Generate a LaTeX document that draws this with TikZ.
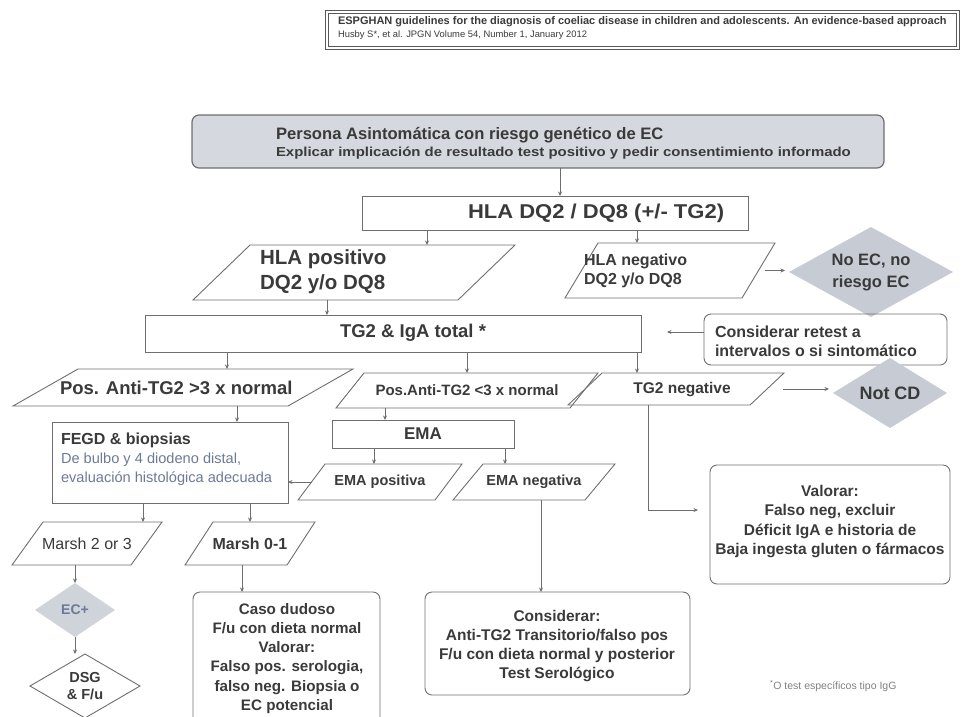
\documentclass[tikz,border=0pt]{standalone}
\usepackage{fontspec}
\setmainfont{Liberation Sans}
\usetikzlibrary{shapes.geometric,arrows.meta}
\definecolor{cLine}{HTML}{6E6E6E}
\definecolor{cText}{HTML}{3A3A3A}
\definecolor{cBlue}{HTML}{6C7A96}
\definecolor{cFill}{HTML}{D5D8DF}
\definecolor{cDia}{HTML}{C6CBD4}
\newcommand\fb[2]{\bfseries\fontsize{#1}{#2}\selectfont}
\newcommand\fm[2]{\mdseries\fontsize{#1}{#2}\selectfont}
% rectangle node: name, x1, y1, x2, y2, style, text
\newcommand\bx[7]{\node[#6, minimum width={#4-#2}, minimum height={#5-#3}] (#1) at ({(#2+#4)/2},{(#3+#5)/2}) {#7};}
% parallelogram: name, ytop, ybottom, xbottomleft, xtopleft, xtopright, style, text
\newcommand\pg[8]{%
  \draw[lnk] (#4,#3) -- (#5,#2) -- (#6,#2) -- ({#4+#6-#5},#3) -- cycle;
  \node[inner sep=0, outer sep=0, minimum width={#6-#5}, minimum height={#3-#2}, #7] (#1) at ({(#4+#6)/2},{(#2+#3)/2}) {#8};}
\begin{document}
\begin{tikzpicture}[x=1pt,y=-1pt,
  every node/.style={text=cText},
  lnk/.style={draw=cLine, line width=0.9pt},
  arr/.style={draw=cLine, line width=0.9pt, -{Stealth[length=4.5pt,width=4pt]}},
  bxs/.style={draw=cLine, line width=0.9pt, inner sep=0, outer sep=0},
  rbx/.style={bxs, rounded corners=7pt},
  txt/.style={inner sep=0, outer sep=0, align=left},
  ctx/.style={inner sep=0, outer sep=0, align=center},
  dia/.style={diamond, inner sep=0, outer sep=0}]
\useasboundingbox (0,0) rectangle (961,716);

% header reference
\bx{hdr}{327}{12}{958}{48}{bxs, draw=gray!70!black, line width=1.2pt, double=white, double distance=1.6pt}{}
\node[txt, anchor=west, font={\fb{11}{12}}] (hdr1) at (338,22) {ESPGHAN guidelines for the diagnosis of coeliac disease in children and adolescents. An evidence-based approach};
\node[txt, anchor=west, font={\fm{9.4}{10}}] (hdr2) at (338,35.5) {Husby S*, et al. JPGN Volume 54, Number 1, January 2012};

% top box
\bx{persona}{192}{115}{884}{168}{rbx, fill=cFill, line width=1.2pt}{}
\node[txt, anchor=west, font={\fb{16.6}{19}}] (pt1) at (276,135) {Persona Asintomática con riesgo genético de EC};
\node[txt, anchor=west, font={\fb{13}{15}}] (pt2) at (276,153) {\scalebox{1.15}[1]{Explicar implicación de resultado test positivo y pedir consentimiento informado}};

% HLA
\bx{hla}{362}{196}{748}{230}{bxs}{}
\node[txt, anchor=west, font={\fb{20}{22}}] (hlat) at (468,213) {\scalebox{1.1}[1]{HLA DQ2 / DQ8 (+/- TG2)}};

\pg{hpos}{245}{300}{193}{250}{515}{}{}
\node[txt, anchor=west, font={\fb{20.5}{25}}] (hpost) at (260,272) {HLA positivo\\DQ2 y/o DQ8};
\pg{hneg}{243}{298}{565}{598}{775}{}{}
\node[txt, anchor=west, font={\fb{16}{19}}] (hnegt) at (584,271) {HLA negativo\\DQ2 y/o DQ8};
\node[dia, fill=cDia, minimum width=164, minimum height=90] (noec) at (871,272) {};
\node[ctx, font={\fb{16.5}{22}}] (noect) at (noec.center) {No EC, no\\riesgo EC};

% TG2
\bx{tg2}{145}{315}{641}{352}{bxs}{}
\node[txt, anchor=west, font={\fb{18.5}{20}}] (tg2t) at (340,333) {TG2 \& IgA total *};
\bx{retest}{704}{314}{947}{365}{rbx}{}
\node[txt, anchor=west, font={\fb{16}{19}}] (retestt) at (715,341) {Considerar retest a\\intervalos o si sintomático};

\pg{pos3}{369}{406}{13}{78}{353}{}{}
\node[txt, anchor=west, font={\fb{18.5}{20}}] (pos3t) at (60,388) {Pos. Anti-TG2 >3 x normal};
\pg{posl3}{373}{408}{336}{364}{598}{font={\fb{15}{17}}}{Pos.Anti-TG2 <3 x normal}
\pg{tgneg}{373}{405}{568}{602}{784}{}{}
\node[txt, font={\fb{15.5}{17}}] (tgnegt) at (682,390) {TG2 negative};
\node[dia, fill=cDia, minimum width=114, minimum height=70] (notcd) at (890,393) {};
\node[ctx, font={\fb{18}{20}}] (notcdt) at (notcd.center) {Not CD};

% EMA branch
\bx{ema}{332}{420}{514}{448}{bxs, font={\fb{17}{19}}}{EMA}
\pg{emapos}{464}{500}{298}{325}{462}{font={\fb{14.5}{16}}}{EMA positiva}
\pg{emaneg}{464}{500}{453}{483}{615}{font={\fb{14.5}{16}}}{EMA negativa}

% FEGD
\bx{fegd}{52}{422}{288}{503}{bxs}{}
\node[txt, anchor=west, font={\fb{16}{18}}] (fegd1) at (61,440) {FEGD \& biopsias};
\node[txt, anchor=west, font={\fm{14.6}{16}}, text=cBlue] (fegd2) at (61,460) {De bulbo y 4 diodeno distal,};
\node[txt, anchor=west, font={\fm{14.6}{16}}, text=cBlue] (fegd3) at (61,479) {evaluación histológica adecuada};

\pg{m23}{522}{565}{12}{43}{162}{font={\fm{16}{18}}}{Marsh 2 or 3}
\pg{m01}{522}{565}{185}{213}{315}{font={\fb{16}{18}}}{Marsh 0-1}
\node[dia, fill=cDia!85, minimum width=80, minimum height=54] (ecp) at (75,610) {};
\node[ctx, text=cBlue, font={\fb{14}{16}}] (ecpt) at (ecp.center) {EC+};
\node[dia, draw=cLine, line width=0.9pt, fill=white, minimum width=110, minimum height=64] (dsg) at (85,686) {};
\node[ctx, font={\fb{14.5}{17}}] (dsgt) at (dsg.center) {DSG\\\& F/u};

\bx{caso}{193}{592}{380}{726}{rbx}{}
\node[ctx, anchor=north, font={\fb{15.2}{19.3}}] (casot) at (287,603) {Caso dudoso\\F/u con dieta normal\\Valorar:\\Falso pos. serologia,\\falso neg. Biopsia o\\EC potencial};

\bx{consid}{425}{592}{690}{695}{rbx}{}
\node[ctx, anchor=north, font={\fb{15.5}{19}}] (considt) at (557,610) {Considerar:\\Anti-TG2 Transitorio/falso pos\\F/u con dieta normal y posterior\\Test Serológico};

\bx{valorar}{710}{465}{950}{584}{rbx}{}
\node[ctx, anchor=north, font={\fb{15.5}{19.5}}] (valort) at (830,485) {Valorar:\\Falso neg, excluir\\Déficit IgA e historia de\\Baja ingesta gluten o fármacos};

\node[txt, anchor=west, font={\fm{10.5}{12}}, text=gray] (foot) at (770,686) {\textsuperscript{*}O test específicos tipo IgG};

% connectors
\draw[arr] (persona.south -| 560,0) -- (hla.north -| 560,0);
\draw[arr] (hla.south -| 427,0) -- (hpos.north -| 427,0);
\draw[arr] (hla.south -| 637,0) -- (hneg.north -| 637,0);
\draw[arr, shorten <=6pt, shorten >=4pt] (hneg.east) -- (noec.west |- hneg.east);
\draw[arr] (hpos.south -| 327,0) -- (tg2.north -| 327,0);
\draw[arr, shorten >=26pt] (retest.west |- 0,332) -- (tg2.east |- 0,332);
\draw[arr] (tg2.south -| 227,0) -- (pos3.north -| 227,0);
\draw[arr] (tg2.south -| 467,0) -- (posl3.north -| 467,0);
\draw[arr] (tg2.south -| 637,0) -- (tgneg.north -| 637,0);
\draw[arr, shorten <=16pt, shorten >=4pt] (tgneg.east) -- (notcd.west |- tgneg.east);
\draw[arr] (pos3.south -| 237,0) -- (fegd.north -| 237,0);
\draw[arr] (posl3.south -| 385,0) -- (ema.north -| 385,0);
\draw[arr] (ema.south -| 374,0) -- (emapos.north -| 374,0);
\draw[arr] (ema.south -| 505,0) -- (emaneg.north -| 505,0);
\draw[arr] (emapos.west) -- (fegd.east |- emapos.west);
\draw[arr] (fegd.south -| 143,0) -- (m23.north -| 143,0);
\draw[arr] (fegd.south -| 250,0) -- (m01.north -| 250,0);
\draw[arr] (m23.south -| ecp.north) -- (ecp.north);
\draw[arr] (ecp.south) -- (dsg.north -| ecp.south);
\draw[arr] (m01.south -| 242,0) -- (caso.north -| 242,0);
\draw[arr] (emaneg.south -| 541,0) -- (consid.north -| 541,0);
\draw[arr, shorten >=12pt] (tgneg.south -| 648,0) |- (valorar.west |- 0,510);
\end{tikzpicture}
\end{document}
